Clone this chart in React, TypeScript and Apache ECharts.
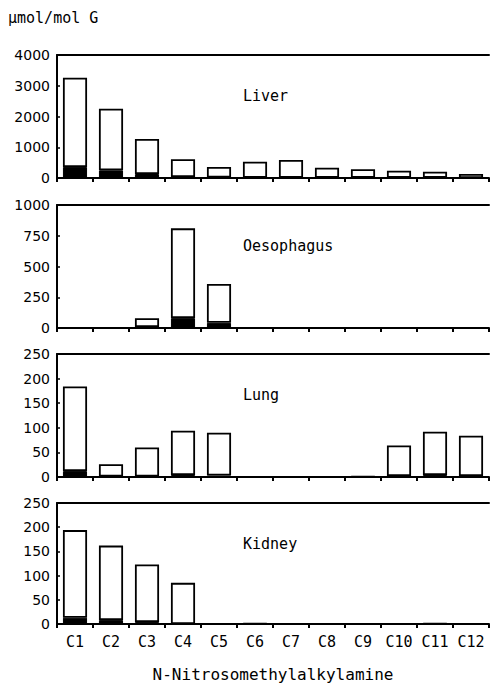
import React, { useEffect, useRef } from "react";
import * as echarts from "echarts";

const categories = ["C1", "C2", "C3", "C4", "C5", "C6", "C7", "C8", "C9", "C10", "C11", "C12"];

const panelNames = ["Liver", "Oesophagus", "Lung", "Kidney"];
const panelMax = [4000, 1000, 250, 250];
const panelInterval = [1000, 250, 50, 50];

// total adduct levels (bar height)
const liverTotal = [3260, 2250, 1270, 610, 360, 530, 585, 335, 283, 237, 205, 130];
const oesophagusTotal = [0, 0, 79, 810, 358, 0, 0, 0, 0, 0, 0, 0];
const lungTotal = [184, 26, 60, 94, 90, 0, 0, 0, 1, 64, 92, 84];
const kidneyTotal = [194, 162, 123, 85, 0, 1, 0, 0, 0, 0, 1, 0];

// black (lower) portion
const liverBlack = [360, 250, 130, 30, 15, 10, 10, 5, 5, 5, 5, 0];
const oesophagusBlack = [0, 0, 8, 80, 42, 0, 0, 0, 0, 0, 0, 0];
const lungBlack = [12, 1, 1, 4, 3, 0, 0, 0, 0, 2, 4, 2];
const kidneyBlack = [13, 8, 4, 0, 0, 0, 0, 0, 0, 0, 0, 0];

const totals = [liverTotal, oesophagusTotal, lungTotal, kidneyTotal];
const blacks = [liverBlack, oesophagusBlack, lungBlack, kidneyBlack];

const gridTops = [55, 205, 354, 503];
const gridHeight = 123;

export default function App() {
  const ref = useRef<HTMLDivElement>(null);
  useEffect(() => {
    if (!ref.current) return;
    const chart = echarts.init(ref.current, null, { renderer: "svg" });
    const mono = "DejaVu Sans Mono";
    const grids: any[] = [];
    const xAxes: any[] = [];
    const yAxes: any[] = [];
    const series: any[] = [];
    const graphics: any[] = [];
    panelNames.forEach((name, i) => {
      grids.push({ left: 57, right: 1, top: gridTops[i], height: gridHeight });
      const last = i === panelNames.length - 1;
      xAxes.push({
        type: "category",
        gridIndex: i,
        data: categories,
        boundaryGap: true,
        axisLine: { lineStyle: { color: "#000", width: 2 } },
        axisTick: { show: true, length: 4, lineStyle: { color: "#000", width: 2 } },
        axisLabel: last
          ? { show: true, color: "#000", fontFamily: mono, fontSize: 15, margin: 10, interval: 0 }
          : { show: false },
        name: last ? "N-Nitrosomethylalkylamine" : "",
        nameLocation: "middle",
        nameGap: 42,
        nameTextStyle: { color: "#000", fontFamily: mono, fontSize: 16 },
      });
      xAxes.push({
        type: "category",
        gridIndex: i,
        position: "top",
        data: categories,
        axisLine: { lineStyle: { color: "#000", width: 2 } },
        axisTick: { show: false },
        axisLabel: { show: false },
      });
      yAxes.push({
        type: "value",
        gridIndex: i,
        min: 0,
        max: panelMax[i],
        interval: panelInterval[i],
        splitLine: { show: false },
        axisLine: { show: true, lineStyle: { color: "#000", width: 2 } },
        axisTick: { show: true, inside: true, length: 3, lineStyle: { color: "#000", width: 1.5 } },
        axisLabel: {
          color: "#000",
          fontFamily: "DejaVu Sans",
          fontSize: 14,
          margin: 7,
          formatter: (v: number) => String(v),
        },
      });
      const stackId = "s" + i;
      series.push({
        type: "bar",
        xAxisIndex: i * 2,
        yAxisIndex: i,
        stack: stackId,
        data: blacks[i],
        barCategoryGap: "33%",
        itemStyle: { color: "#000", borderColor: "#000", borderWidth: 1 },
      });
      series.push({
        type: "bar",
        xAxisIndex: i * 2,
        yAxisIndex: i,
        stack: stackId,
        data: totals[i].map((t, k) => Math.max(t - blacks[i][k], 0)),
        barCategoryGap: "33%",
        itemStyle: { color: "#fff", borderColor: "#000", borderWidth: 1.8 },
      });
      graphics.push({
        type: "text",
        left: 243,
        top: gridTops[i] + 33,
        style: { text: name, fill: "#000", font: `15px ${mono}` },
      });
    });
    graphics.push({
      type: "text",
      left: 8,
      top: 10,
      style: { text: "µmol/mol G", fill: "#000", font: `15px ${mono}` },
    });
    chart.setOption({
      animation: false,
      backgroundColor: "#fff",
      grid: grids,
      xAxis: xAxes,
      yAxis: yAxes,
      series,
      graphic: graphics,
    });
    return () => chart.dispose();
  }, []);
  return <div ref={ref} style={{ width: 490, height: 683, position: "absolute", left: 0, top: 0 }} />;
}
